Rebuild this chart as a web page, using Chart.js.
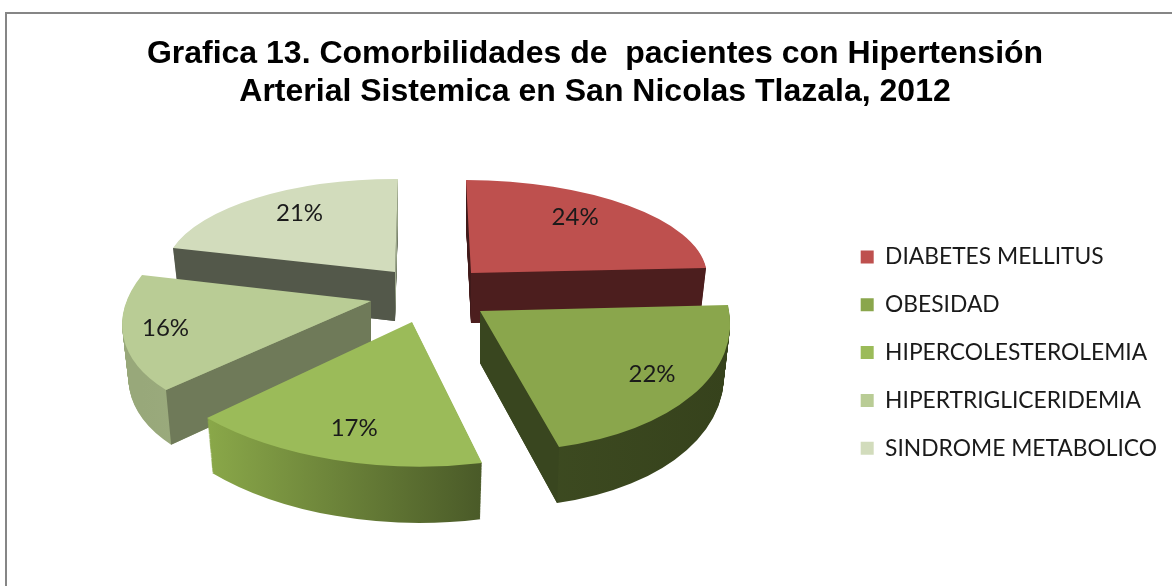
<!DOCTYPE html>
<html>
<head>
<meta charset="utf-8">
<script src="https://cdn.jsdelivr.net/npm/chart.js@4"></script>
<style>
html,body{margin:0;padding:0;background:#fff;overflow:hidden}
#wrap{position:relative;width:1172px;height:586px}
#frame{position:absolute;left:5px;top:12px;right:0;bottom:0;border-left:2px solid #868686;border-top:2px solid #868686}
canvas{position:absolute;left:0;top:0}
</style>
</head>
<body>
<div id="wrap"><div id="frame"></div><canvas id="c" width="1172" height="586"></canvas></div>
<script>
const categories = ["DIABETES MELLITUS","OBESIDAD","HIPERCOLESTEROLEMIA","HIPERTRIGLICERIDEMIA","SINDROME METABOLICO"];
const seriesValues = [24,22,17,16,21];
const sliceColors = ["#BE504E","#8AA64C","#9BBB59","#B9CC95","#D2DCBC"];
const titleLines = ["Grafica 13. Comorbilidades de  pacientes con Hipertensión","Arterial Sistemica en San Nicolas Tlazala, 2012"];

// 3-D view of each wedge: where the pie's rim corners land after the tilt
const sliceViews = [
  {apex:[471,273],rimStart:[466,180],rimEnd:[706,268],depth:50,wall:["#4c1e1e","#4c1e1e"],cutStart:"#3f1a1a",cutEnd:"#4c1e1e",label:0.66,nudge:[0,-11]},
  {apex:[480,311],rimStart:[728,305],rimEnd:[559,447],depth:52,wall:["#3f4d22","#36421c"],cutStart:null,cutEnd:"#39461f",label:0.66,nudge:[32,8]},
  {apex:[412,322],rimStart:[482,463],rimEnd:[207,418],depth:52,wall:["#8AA849","#4a5a28"],cutStart:null,cutEnd:null,label:0.66,nudge:[-6,15]},
  {apex:[371,301],rimStart:[166,390],rimEnd:[142,275],depth:52,wall:["#98a87a","#a6b48a"],cutStart:"#6f7a59",cutEnd:null,label:0.66,nudge:[-42,4]},
  {apex:[395,272],rimStart:[173,248],rimEnd:[398,179],depth:49,wall:["#53584a","#53584a"],cutStart:"#53584a",cutEnd:"#9ca78b",label:0.66,nudge:[-4,-10]}
];
const drawOrder = [4,0,3,1,2];
const WALL_SX = 0.975, WALL_SY = 1.03;

function baseMatrix(el, v){
  const R = el.outerRadius;
  const u0=[R*Math.cos(el.startAngle),R*Math.sin(el.startAngle)];
  const u1=[R*Math.cos(el.endAngle),R*Math.sin(el.endAngle)];
  const t0=[v.rimStart[0]-v.apex[0],v.rimStart[1]-v.apex[1]];
  const t1=[v.rimEnd[0]-v.apex[0],v.rimEnd[1]-v.apex[1]];
  const det=u0[0]*u1[1]-u1[0]*u0[1];
  return {
    a:(t0[0]*u1[1]-t1[0]*u0[1])/det,
    c:(t1[0]*u0[0]-t0[0]*u1[0])/det,
    b:(t0[1]*u1[1]-t1[1]*u0[1])/det,
    d:(t1[1]*u0[0]-t0[1]*u1[0])/det
  };
}
function drawLayer(ctx, el, v, m, k, fill){
  const sx=1+(WALL_SX-1)*k, sy=1+(WALL_SY-1)*k;
  const a=m.a*sx,c=m.c*sx,b=m.b*sy,d=m.d*sy;
  const ax=v.apex[0], ay=v.apex[1]+v.depth*k;
  const e=ax-a*el.x-c*el.y, f=ay-b*el.x-d*el.y;
  ctx.save();
  ctx.transform(a,b,c,d,e,f);
  let style=fill;
  if(Array.isArray(fill)){
    const xs=[v.rimStart[0],v.rimEnd[0],v.apex[0]];
    let x0=Math.min(...xs),x1=Math.max(...xs);
    const n=a*a+c*c;
    const tA=(x0-ax)/n, tB=(x1-ax)/n;
    style=ctx.createLinearGradient(el.x+tA*a,el.y+tA*c,el.x+tB*a,el.y+tB*c);
    style.addColorStop(0,fill[0]);style.addColorStop(1,fill[1]);
  }
  const saved=el.options;
  el.options=Object.assign({},saved,{backgroundColor:style,borderWidth:0,borderColor:style,offset:0,spacing:0});
  el.draw(ctx);
  el.options=saved;
  ctx.restore();
}
function cutFace(ctx, v, corner, color){
  if(!color) return;
  const dx=corner[0]-v.apex[0], dy=corner[1]-v.apex[1];
  ctx.fillStyle=color;
  ctx.beginPath();
  ctx.moveTo(v.apex[0],v.apex[1]);
  ctx.lineTo(corner[0],corner[1]);
  ctx.lineTo(v.apex[0]+dx*WALL_SX,v.apex[1]+v.depth+dy*WALL_SY);
  ctx.lineTo(v.apex[0],v.apex[1]+v.depth);
  ctx.closePath();
  ctx.fill();
}
const pie3d={
  id:"pie3d",
  beforeDatasetsDraw(chart){
    const ctx=chart.ctx, arcs=chart.getDatasetMeta(0).data;
    drawOrder.forEach(i=>{
      const el=arcs[i], v=sliceViews[i], m=baseMatrix(el,v);
      const steps=Math.ceil(v.depth);
      for(let s=steps;s>=1;s--) drawLayer(ctx,el,v,m,s/steps,v.wall);
      cutFace(ctx,v,v.rimStart,v.cutStart);
      cutFace(ctx,v,v.rimEnd,v.cutEnd);
      drawLayer(ctx,el,v,m,0,sliceColors[i]);
    });
    ctx.save();
    ctx.font="24px Lato";
    ctx.fillStyle="#1a1a1a";
    ctx.textAlign="center";ctx.textBaseline="middle";
    arcs.forEach((el,i)=>{
      const v=sliceViews[i], m=baseMatrix(el,v);
      const mid=(el.startAngle+el.endAngle)/2, r=el.outerRadius*v.label;
      const ux=r*Math.cos(mid), uy=r*Math.sin(mid);
      ctx.fillText(seriesValues[i]+"%",v.apex[0]+m.a*ux+m.c*uy+v.nudge[0],v.apex[1]+m.b*ux+m.d*uy+v.nudge[1]);
    });
    ctx.restore();
    return false;
  }
};
new Chart(document.getElementById("c"),{
  type:"pie",
  data:{labels:categories,datasets:[{data:seriesValues,backgroundColor:sliceColors,borderWidth:0}]},
  plugins:[pie3d],
  options:{
    responsive:false,animation:false,
    layout:{padding:{left:23,right:5,top:0,bottom:12}},
    plugins:{
      tooltip:{enabled:false},
      title:{display:true,text:titleLines,color:"#000",align:"center",
        font:{family:"'Liberation Sans'",size:32,weight:"bold",lineHeight:1.19},
        padding:{top:35,bottom:20}},
      legend:{display:true,position:"right",align:"center",fullSize:false,
        labels:{boxWidth:13,boxHeight:13,padding:25,color:"#1a1a1a",font:{family:"Lato",size:22.8}}}
    }
  }
});
</script>
</body>
</html>
